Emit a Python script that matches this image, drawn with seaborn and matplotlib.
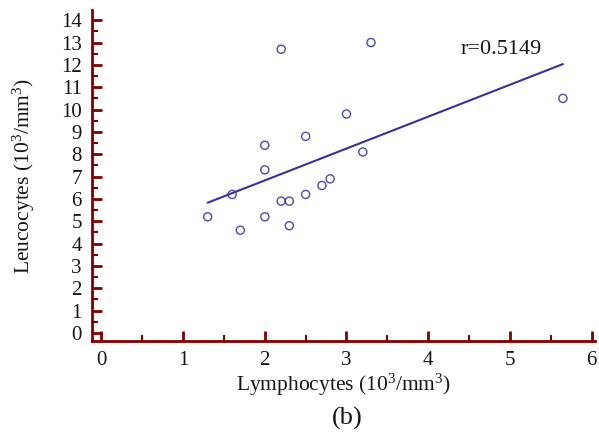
import matplotlib
matplotlib.use("Agg")
import matplotlib.pyplot as plt
import seaborn as sns
import pandas as pd
from matplotlib.ticker import MultipleLocator

# Data
lymphocytes = [1.3, 1.6, 1.7, 2.0, 2.0, 2.0, 2.2, 2.2, 2.3, 2.3, 2.5, 2.5, 2.7, 2.8, 3.0, 3.2, 3.3, 5.65]
leucocytes = [5.2, 6.2, 4.6, 8.4, 7.3, 5.2, 12.7, 5.9, 5.9, 4.8, 8.8, 6.2, 6.6, 6.9, 9.8, 8.1, 13.0, 10.5]
x_ticks = [0, 1, 2, 3, 4, 5, 6]
y_ticks = list(range(0, 15))
r_label = "r=0.5149"

df = pd.DataFrame({"x": lymphocytes, "y": leucocytes})

sns.set_theme(style="white")
plt.rcParams["font.family"] = ["Liberation Serif", "DejaVu Serif"]
plt.rcParams["mathtext.fontset"] = "custom"
plt.rcParams["mathtext.rm"] = "Liberation Serif"
plt.rcParams["mathtext.it"] = "Liberation Serif:italic"
plt.rcParams["mathtext.bf"] = "Liberation Serif:bold"

spine_color = "#800000"
point_color = "#1f1f96"
line_color = "#33339c"
text_color = "#151515"

fig = plt.figure(figsize=(5.99, 4.40), dpi=100)
ax = fig.add_axes([0.153, 0.225, 0.84, 0.752])

sns.regplot(data=df, x="x", y="y", ax=ax, ci=None, truncate=True,
            scatter_kws=dict(s=34, facecolors="none", edgecolors=point_color, linewidths=1.0),
            line_kws=dict(color=line_color, lw=1.5))

ax.set_xlim(-0.12, 6.04)
ax.set_ylim(-0.36, 14.45)
ax.set_xticks(x_ticks)
ax.set_yticks(y_ticks)
ax.xaxis.set_minor_locator(MultipleLocator(0.5))
ax.yaxis.set_minor_locator(MultipleLocator(0.5))

for s in ["top", "right"]:
    ax.spines[s].set_visible(False)
for s in ["left", "bottom"]:
    ax.spines[s].set_color(spine_color)
    ax.spines[s].set_linewidth(2.0)

ax.tick_params(axis="both", which="major", direction="in", length=7, width=2,
               color=spine_color, labelsize=15, labelcolor=text_color, pad=7)
ax.tick_params(axis="both", which="minor", direction="in", length=4, width=1.5,
               color=spine_color)
ax.tick_params(axis="x", bottom=True, which="both")
ax.tick_params(axis="y", left=True, which="both")

ax.set_xlabel("Lymphocytes (10$^3$/mm$^3$)", fontsize=15.5, color=text_color, labelpad=1.5)
ax.set_ylabel("Leucocytes (10$^3$/mm$^3$)", fontsize=15.5, color=text_color, labelpad=17)

ax.text(4.4, 12.7, r_label, fontsize=16, color=text_color, ha="left", va="center")

fig.text(0.58, 0.048, "(b)", fontsize=19, color=text_color, ha="center", va="center")

fig.savefig("out.png", dpi=100)
